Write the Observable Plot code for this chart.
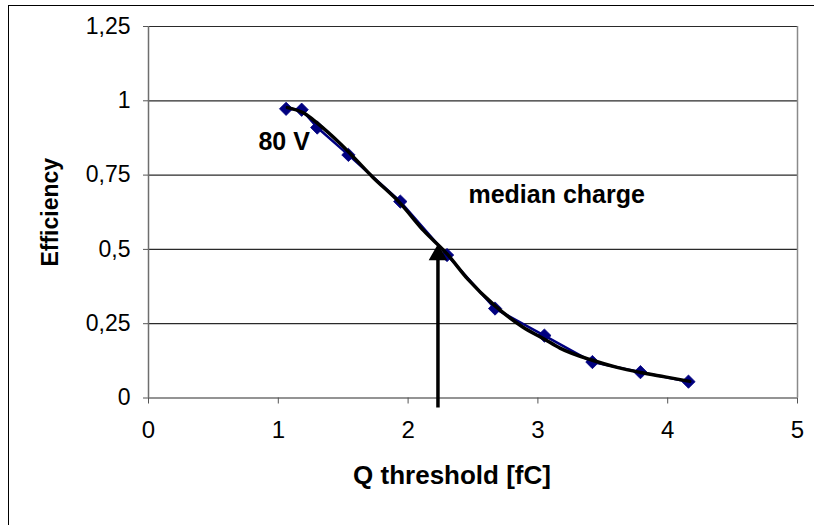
<!DOCTYPE html>
<html>
<head>
<meta charset="utf-8">
<script src="https://cdn.jsdelivr.net/npm/d3@7"></script>
<script src="https://cdn.jsdelivr.net/npm/@observablehq/plot@0.6"></script>
<style>
  html, body { margin: 0; padding: 0; background: #fff; overflow: hidden; }
  #chart { position: relative; width: 814px; height: 525px; }
  #chart .area { position: absolute; left: 8px; top: 5px; width: 830px; height: 540px;
                 border: 1.5px solid #000; box-sizing: border-box; }
  #chart svg { position: absolute; left: 0; top: 0; }
</style>
</head>
<body>
<div id="chart"><div class="area"></div></div>
<script>
// Measured efficiency vs. charge threshold at 80 V
const qThreshold = [1.06, 1.18, 1.30, 1.54, 1.94, 2.30, 2.67, 3.05, 3.42, 3.79, 4.16];
const efficiency = [0.973, 0.970, 0.910, 0.818, 0.661, 0.481, 0.301, 0.210, 0.121, 0.087, 0.055];

// Smoothed fit through the measurements
const fitQ   = [1.07, 1.20, 1.30, 1.48, 1.73, 1.94, 2.12, 2.30, 2.46, 2.67, 2.88, 3.05, 3.17, 3.42, 3.61, 3.79, 3.98, 4.17];
const fitEff = [0.977, 0.958, 0.925, 0.855, 0.742, 0.655, 0.563, 0.485, 0.400, 0.310, 0.240, 0.198, 0.168, 0.127, 0.103, 0.086, 0.071, 0.056];

// Median charge: threshold where the efficiency reaches 50 %
const medianQ = 2.23;
const medianEff = 0.5;

const xTicks = [0, 1, 2, 3, 4, 5];
const yTicks = [0, 0.25, 0.5, 0.75, 1, 1.25];

const annotations = [
  {text: "80 V", q: 0.847, eff: 0.862},
  {text: "median charge", q: 2.465, eff: 0.684}
];

const measured = qThreshold.map((q, i) => ({q, eff: efficiency[i]}));
const fit = fitQ.map((q, i) => ({q, eff: fitEff[i]}));
const comma = d => String(d).replace(".", ",");
const font = "'Liberation Sans', Arial, sans-serif";

const chart = Plot.plot({
  width: 814,
  height: 525,
  marginLeft: 148,
  marginRight: 17,
  marginTop: 26,
  marginBottom: 127.5,
  style: {fontFamily: font, color: "#000", background: "transparent", overflow: "visible"},
  x: {domain: [0, 5]},
  y: {domain: [0, 1.25]},
  marks: [
    Plot.ruleY(yTicks, {stroke: "#2a2a2a", strokeWidth: 1.2}),
    Plot.ruleX([0], {stroke: "#6e6e6e", strokeWidth: 1.5}),
    Plot.ruleX([5], {stroke: "#8a8a8a", strokeWidth: 1.5}),
    Plot.axisY(yTicks, {
      tickSize: 5, tickPadding: 13, tickFormat: comma, fontSize: 23,
      stroke: "#555", label: null
    }),
    Plot.axisX(xTicks, {
      tickSize: 6, tickPadding: 17, tickFormat: comma, fontSize: 24,
      stroke: "#555", label: null
    }),
    // measured points joined by a thin line
    Plot.line(measured, {x: "q", y: "eff", stroke: "#000080", strokeWidth: 2.5}),
    Plot.dot(measured, {x: "q", y: "eff", symbol: "diamond2", r: 6, fill: "#000080", stroke: "#000080", strokeWidth: 0.8}),
    // smoothed curve
    Plot.line(fit, {x: "q", y: "eff", curve: "monotone-x", stroke: "#000", strokeWidth: 3.5}),
    // arrow marking the median charge
    Plot.ruleX([medianQ], {y1: 0, y2: medianEff, stroke: "#000", strokeWidth: 3.5, insetTop: 10}),
    Plot.dot([medianQ], {x: d => d, y: () => medianEff, symbol: "triangle", r: 6.9, dy: 5.4, fill: "#000", stroke: "none"}),
    // annotations
    Plot.text(annotations, {x: "q", y: "eff", text: "text", textAnchor: "start", fontSize: 25, fontWeight: "bold", fill: "#000"}),
    // axis titles
    Plot.text(["Efficiency"], {frameAnchor: "left", textAnchor: "middle", lineAnchor: "middle", dx: -98, rotate: -90, fontSize: 23, fontWeight: "bold", fill: "#000"}),
    Plot.text(["Q threshold [fC]"], {frameAnchor: "bottom", textAnchor: "middle", lineAnchor: "middle", dx: -21, dy: 77.5, fontSize: 26, fontWeight: "bold", fill: "#000"})
  ]
});

document.getElementById("chart").appendChild(chart);
</script>
</body>
</html>
